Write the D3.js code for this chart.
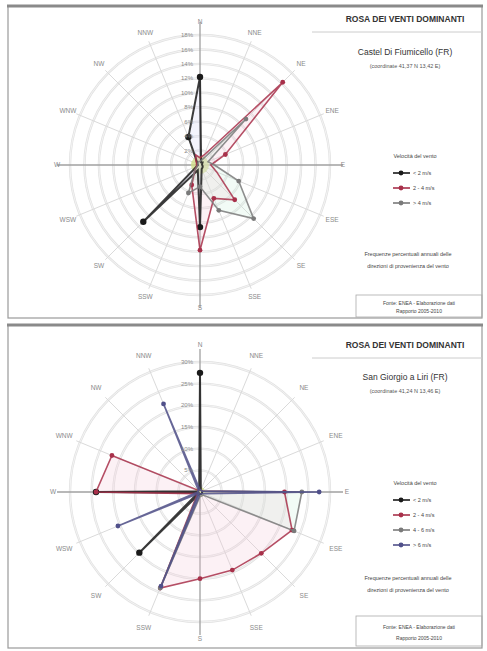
<!DOCTYPE html>
<html><head><meta charset="utf-8">
<script src="https://cdn.jsdelivr.net/npm/d3@7/dist/d3.min.js"></script>
<style>body{margin:0;background:#fff;font-family:"Liberation Sans",Arial,sans-serif}</style>
</head><body><svg id="c" width="487" height="651"></svg>
<script>
const directions = ["N","NNE","NE","ENE","E","ESE","SE","SSE","S","SSW","SW","WSW","W","WNW","NW","NNW"];

// Top chart
const topTitle = "ROSA DEI VENTI DOMINANTI";
const topStation = "Castel Di Fiumicello (FR)";
const topCoords = "(coordinate 41,37 N 13,42 E)";
const topTicks = [2,4,6,8,10,12,14,16,18];
const topTickLabels = ["2%","4%","6%","8%","10%","12%","14%","16%","18%"];
const topLegend = ["< 2 m/s","2 - 4 m/s","> 4 m/s"];
const topS1 = [12.2,0.4,0.5,0.3,0.3,0.4,0.5,0.6,8.6,0.8,11.1,0.5,0.3,0.4,0.6,4.2];
const topS2 = [1.0,1.5,16.2,3.8,1.5,2.5,6.8,5.0,11.8,3.0,1.0,0.5,0.5,0.5,0.8,1.5];
const topS3 = [0.5,0.8,9.0,1.2,2.0,5.8,10.5,6.8,3.0,4.2,1.0,0.4,0.3,0.3,0.4,0.5];

// Bottom chart
const botTitle = "ROSA DEI VENTI DOMINANTI";
const botStation = "San Giorgio a Liri (FR)";
const botCoords = "(coordinate 41,24 N 13,46 E)";
const botTicks = [5,10,15,20,25,30];
const botTickLabels = ["5%","10%","15%","20%","25%","30%"];
const botLegend = ["< 2 m/s","2 - 4 m/s","4 - 6 m/s","> 6 m/s"];
const botS1 = [27.5,0.5,0.5,0.5,0.5,0.5,0.5,0.5,0.5,0.5,19.8,0.5,24.0,0.5,0.5,0.5];
const botS2 = [0.5,0.5,0.5,0.5,19.5,23.0,20.0,19.5,20.0,24.0,1.0,1.0,24.0,22.0,0.5,0.5];
const botS3 = [0.5,0.5,0.5,0.5,23.5,23.5,1.0,1.0,1.0,24.0,0.5,0.5,0.5,0.5,0.5,0.5];
const botS4 = [0.5,0.5,0.5,0.5,27.5,1.0,0.5,0.5,0.5,23.5,0.5,20.5,0.5,0.5,0.5,22.0];

const caption1 = "Frequenze percentuali annuali delle";
const caption2 = "direzioni di provenienza del vento";
const source1 = "Fonte: ENEA - Elaborazione dati";
const source2 = "Rapporto 2005-2010";

const colors = ["#1a1a1a","#a8304a","#7a7a7a","#50508a"];
const fills  = ["#cfd0f4","#f5c9d6","#cdeedb","#f2f0b4"];

const svg = d3.select("#c");

function panel(y0, y1){
  svg.append("rect").attr("x",8).attr("y",y0).attr("width",474).attr("height",y1-y0)
    .attr("fill","#fff").attr("stroke","#9a9a9a").attr("stroke-width",1.2);
  svg.append("line").attr("x1",7).attr("x2",483).attr("y1",y0).attr("y2",y0)
    .attr("stroke","#8a8a8a").attr("stroke-width",3);
}

function chart(cfg){
  const g = svg.append("g").attr("transform",`translate(${cfg.cx},${cfg.cy})`);
  const r = d3.scaleLinear().domain([0,cfg.max]).range([0,cfg.R]);
  const a = d3.scaleLinear().domain([0,directions.length]).range([0,2*Math.PI]);
  cfg.ticks.forEach(t=>{
    g.append("circle").attr("r",r(t)).attr("fill","none").attr("stroke","#e2e2e2").attr("stroke-width",2.4);
    g.append("circle").attr("r",r(t)).attr("fill","none").attr("stroke","#f8f8f8").attr("stroke-width",0.8);
  });
  directions.forEach((d,i)=>{
    const ang=a(i), x=Math.sin(ang)*cfg.R, y=-Math.cos(ang)*cfg.R;
    const main = i%4===0;
    g.append("line").attr("x1",0).attr("y1",0).attr("x2",x*(main?1.1:1.03)).attr("y2",y*(main?1.1:1.03))
      .attr("stroke",main?"#a0a0a0":"#dadada").attr("stroke-width",main?1.3:1);
    const lx=Math.sin(ang)*cfg.LR, ly=-Math.cos(ang)*cfg.LR;
    g.append("text").attr("x",lx).attr("y",ly).attr("dy","0.35em").attr("text-anchor","middle")
      .attr("font-size",6.5).attr("fill","#8a8a8a").text(d);
  });
  g.append("circle").attr("r",cfg.calm).attr("fill","#cfdc86").attr("opacity",0.8);
  const line = d3.lineRadial().angle((d,i)=>a(i)).radius(d=>r(d)).curve(d3.curveLinearClosed);
  cfg.series.forEach((s,k)=>{
    g.append("path").attr("d",line(s)).attr("fill",fills[k]).attr("fill-opacity",0.25).attr("stroke","none");
  });
  cfg.series.forEach((s,k)=>{
    g.append("path").attr("d",line(s)).attr("fill","none").attr("stroke",colors[k]).attr("stroke-width",k===0?2:1.6).attr("stroke-opacity",0.85);
    s.forEach((v,i)=>{
      if(v<3) return;
      const ang=a(i);
      g.append("circle").attr("cx",Math.sin(ang)*r(v)).attr("cy",-Math.cos(ang)*r(v)).attr("r",k===0?3.2:2.4)
        .attr("fill",colors[k]);
    });
  });
  cfg.ticks.forEach((t,i)=>{
    g.append("text").attr("x",-7).attr("y",-r(t)).attr("dy","0.35em").attr("text-anchor","end")
      .attr("font-size",6).attr("fill","#8a8a8a").text(cfg.tickLabels[i]);
  });
}

function sidebar(cfg){
  const x=cfg.x;
  svg.append("text").attr("x",x).attr("y",cfg.ty).attr("text-anchor","middle").attr("font-size",8.5)
    .attr("font-weight","bold").attr("fill","#333").text(cfg.title);
  svg.append("line").attr("x1",312).attr("x2",482).attr("y1",cfg.ty+10).attr("y2",cfg.ty+10).attr("stroke","#ccc");
  svg.append("text").attr("x",x).attr("y",cfg.sy).attr("text-anchor","middle").attr("font-size",8.5).attr("fill","#333").text(cfg.station);
  svg.append("text").attr("x",x).attr("y",cfg.sy+13).attr("text-anchor","middle").attr("font-size",5.5).attr("fill","#555").text(cfg.coords);
  svg.append("text").attr("x",415).attr("y",cfg.ly).attr("text-anchor","middle").attr("font-size",5.5).attr("fill","#444").text("Velocità del vento");
  cfg.legend.forEach((l,i)=>{
    const y=cfg.ly+15*(i+1);
    svg.append("line").attr("x1",393).attr("x2",410).attr("y1",y).attr("y2",y).attr("stroke",colors[i]).attr("stroke-width",1.6);
    svg.append("circle").attr("cx",401).attr("cy",y).attr("r",2.4).attr("fill",colors[i]);
    svg.append("text").attr("x",413).attr("y",y).attr("dy","0.35em").attr("font-size",5.5).attr("fill","#444").text(l);
  });
  svg.append("text").attr("x",x+3).attr("y",cfg.cy).attr("text-anchor","middle").attr("font-size",5.5).attr("fill","#444").text(caption1);
  svg.append("text").attr("x",x+3).attr("y",cfg.cy+12).attr("text-anchor","middle").attr("font-size",5.5).attr("fill","#444").text(caption2);
  svg.append("rect").attr("x",356).attr("y",cfg.fy).attr("width",126).attr("height",cfg.fh).attr("fill","none").attr("stroke","#aaa").attr("stroke-width",0.8);
  svg.append("text").attr("x",419).attr("y",cfg.fy+cfg.fh*0.38).attr("dy","0.35em").attr("text-anchor","middle").attr("font-size",5).attr("fill","#444").text(source1);
  svg.append("text").attr("x",419).attr("y",cfg.fy+cfg.fh*0.75).attr("dy","0.35em").attr("text-anchor","middle").attr("font-size",5).attr("fill","#444").text(source2);
}

panel(6,318);
panel(325,648);

chart({cx:200,cy:165,R:130,LR:143,max:18,ticks:topTicks,tickLabels:topTickLabels,calm:9,series:[topS1,topS2,topS3]});
chart({cx:200,cy:492,R:130,LR:147,max:30,ticks:botTicks,tickLabels:botTickLabels,calm:5,series:[botS1,botS2,botS3,botS4]});

sidebar({x:405,ty:22,sy:55,title:topTitle,station:topStation,coords:topCoords,legend:topLegend,ly:158,cy:256,fy:295,fh:22});
sidebar({x:405,ty:348,sy:380,title:botTitle,station:botStation,coords:botCoords,legend:botLegend,ly:485,cy:580,fy:616,fh:30});
</script></body></html>
